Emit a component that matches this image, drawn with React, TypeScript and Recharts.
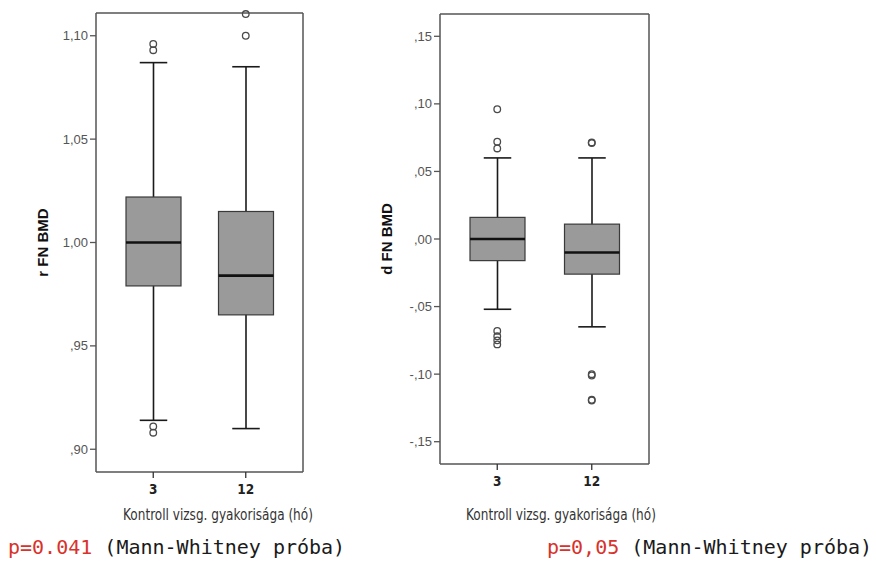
import React from 'react';
import { ComposedChart, Bar, Scatter, XAxis, YAxis } from 'recharts';

// categories on the x axis (control visit frequency, months)
const categories = ['3', '12'];

// left panel: r FN BMD
const rWhiskerLow = [0.914, 0.91];
const rQ1 = [0.979, 0.965];
const rMedian = [1.0, 0.984];
const rQ3 = [1.022, 1.015];
const rWhiskerHigh = [1.087, 1.085];
const rOutliers3 = [1.096, 1.093, 0.911, 0.908];
const rOutliers12 = [1.1, 1.1105];
const rTicks = [0.9, 0.95, 1.0, 1.05, 1.1];
const rDomain = [0.889, 1.111];

// right panel: d FN BMD
const dWhiskerLow = [-0.052, -0.065];
const dQ1 = [-0.016, -0.026];
const dMedian = [0.0, -0.01];
const dQ3 = [0.016, 0.011];
const dWhiskerHigh = [0.06, 0.06];
const dOutliers3 = [0.096, 0.072, 0.067, -0.068, -0.072, -0.075, -0.078];
const dOutliers12 = [0.071, 0.0715, -0.1, -0.101, -0.119, -0.1195];
const dTicks = [-0.15, -0.1, -0.05, 0, 0.05, 0.1, 0.15];
const dDomain = [-0.1665, 0.1665];

const buildRows = (lo, q1, med, q3, hi) =>
  categories.map((cat, i) => ({
    cat,
    whisker: [lo[i], hi[i]],
    box: [q1[i], q3[i]],
    median: [med[i], med[i]],
  }));

const buildOutliers = (o3, o12) => [
  ...o3.map((v) => ({ cat: categories[0], v })),
  ...o12.map((v) => ({ cat: categories[1], v })),
];

// SPSS style: ",95" / "1,05" / "-,10"
const spssFmt = (v: number) => {
  let s = Math.abs(v).toFixed(2).replace('.', ',');
  if (s.startsWith('0')) s = s.slice(1);
  return (v < -1e-9 ? '-' : '') + s;
};

const WhiskerShape = (p: any) => {
  const cx = p.x + p.width / 2;
  const cap = p.width / 4;
  return (
    <g>
      <line x1={cx} x2={cx} y1={p.y} y2={p.y + p.height} stroke="#1a1a1a" strokeWidth={1.6} />
      <line x1={cx - cap} x2={cx + cap} y1={p.y} y2={p.y} stroke="#1a1a1a" strokeWidth={1.6} />
      <line x1={cx - cap} x2={cx + cap} y1={p.y + p.height} y2={p.y + p.height} stroke="#1a1a1a" strokeWidth={1.6} />
    </g>
  );
};

const BoxShape = (p: any) => (
  <rect x={p.x} y={p.y} width={p.width} height={p.height} fill="#9a9a9a" stroke="#3a3a3a" strokeWidth={1.2} />
);

const MedianShape = (p: any) => (
  <line x1={p.x} x2={p.x + p.width} y1={p.y} y2={p.y} stroke="#111" strokeWidth={2.6} />
);

const OutlierShape = (p: any) => (
  <circle cx={p.cx} cy={p.cy} r={3.3} fill="none" stroke="#4a4a4a" strokeWidth={1.3} />
);

const tickFont = { fontFamily: 'Liberation Sans, Arial, sans-serif', fontSize: 13, fill: '#555' };
const catFont = {
  fontFamily: "'Liberation Sans Narrow', 'DejaVu Sans Condensed', Arial, sans-serif",
  fontSize: 13.5,
  fontWeight: 'bold',
  fill: '#222',
};

function BoxPanel({ rows, outliers, ticks, domain, title, margin, padding }) {
  return (
    <ComposedChart width={340} height={510} data={rows} margin={margin} barSize={55} barGap={-55}>
      <XAxis
        dataKey="cat"
        type="category"
        allowDuplicatedCategory={false}
        padding={padding}
        height={30}
        tickSize={6}
        tickMargin={6}
        tick={catFont}
        stroke="#555"
        axisLine={{ stroke: '#555', strokeWidth: 1.5 }}
        tickLine={{ stroke: '#333', strokeWidth: 1.3 }}
      />
      <XAxis
        xAxisId="top"
        orientation="top"
        dataKey="cat"
        allowDuplicatedCategory={false}
        height={1}
        tick={false}
        tickLine={false}
        axisLine={{ stroke: '#555', strokeWidth: 1.5 }}
      />
      <YAxis
        type="number"
        domain={domain}
        ticks={ticks}
        width={60}
        tickSize={6}
        tickMargin={2}
        tickFormatter={spssFmt}
        tick={tickFont}
        axisLine={{ stroke: '#555', strokeWidth: 1.5 }}
        tickLine={{ stroke: '#555', strokeWidth: 1.3 }}
        label={{
          content: (lp: any) => {
            const vb = lp.viewBox;
            const x = vb.x + 12;
            const y = vb.y + vb.height / 2;
            return (
              <text
                x={x}
                y={y}
                transform={`rotate(-90 ${x} ${y})`}
                textAnchor="middle"
                fontFamily="Liberation Sans, Arial, sans-serif"
                fontWeight="bold"
                fontSize={15}
                fill="#111"
              >
                {title}
              </text>
            );
          },
        }}
      />
      <YAxis
        yAxisId="right"
        orientation="right"
        width={1}
        tick={false}
        tickLine={false}
        axisLine={{ stroke: '#555', strokeWidth: 1.5 }}
      />
      <Bar dataKey="whisker" shape={WhiskerShape} isAnimationActive={false} />
      <Bar dataKey="box" shape={BoxShape} isAnimationActive={false} />
      <Bar dataKey="median" shape={MedianShape} isAnimationActive={false} />
      <Scatter data={outliers} dataKey="v" shape={OutlierShape} isAnimationActive={false} />
    </ComposedChart>
  );
}

const axisTitle: React.CSSProperties = {
  position: 'absolute',
  top: 505,
  width: 260,
  textAlign: 'center',
  fontFamily: "'Liberation Sans Narrow', 'DejaVu Sans Condensed', Arial, sans-serif",
  fontSize: 16,
  color: '#333',
  whiteSpace: 'nowrap',
  transform: 'scaleX(0.84)',
};

const pLine: React.CSSProperties = {
  position: 'absolute',
  top: 535,
  fontFamily: "'DejaVu Sans Mono', 'Liberation Mono', monospace",
  fontSize: 20,
  color: '#1a1a1a',
  whiteSpace: 'pre',
};

export default function App() {
  const rRows = buildRows(rWhiskerLow, rQ1, rMedian, rQ3, rWhiskerHigh);
  const dRows = buildRows(dWhiskerLow, dQ1, dMedian, dQ3, dWhiskerHigh);
  return (
    <div style={{ position: 'absolute', left: 0, top: 0, width: 876, height: 562, background: '#fff', overflow: 'hidden' }}>
      <div style={{ position: 'absolute', left: 0, top: 0 }}>
        <BoxPanel
          rows={rRows}
          outliers={buildOutliers(rOutliers3, rOutliers12)}
          ticks={rTicks}
          domain={rDomain}
          title="r FN BMD"
          margin={{ top: 12, right: 36, bottom: 8, left: 36 }}
          padding={{ left: 11, right: 11 }}
        />
      </div>
      <div style={{ position: 'absolute', left: 350, top: 0 }}>
        <BoxPanel
          rows={dRows}
          outliers={buildOutliers(dOutliers3, dOutliers12)}
          ticks={dTicks}
          domain={dDomain}
          title="d FN BMD"
          margin={{ top: 13, right: 40, bottom: 16, left: 30 }}
          padding={{ left: 10, right: 10 }}
        />
      </div>
      <div style={{ ...axisTitle, left: 218 - 130 }}>Kontroll vizsg. gyakorisága (hó)</div>
      <div style={{ ...axisTitle, left: 561 - 130 }}>Kontroll vizsg. gyakorisága (hó)</div>
      <div style={{ ...pLine, left: 8 }}>
        <span style={{ color: '#d8322c' }}>p=0.041</span> (Mann-Whitney próba)
      </div>
      <div style={{ ...pLine, left: 547 }}>
        <span style={{ color: '#d8322c' }}>p=0,05</span> (Mann-Whitney próba)
      </div>
    </div>
  );
}
